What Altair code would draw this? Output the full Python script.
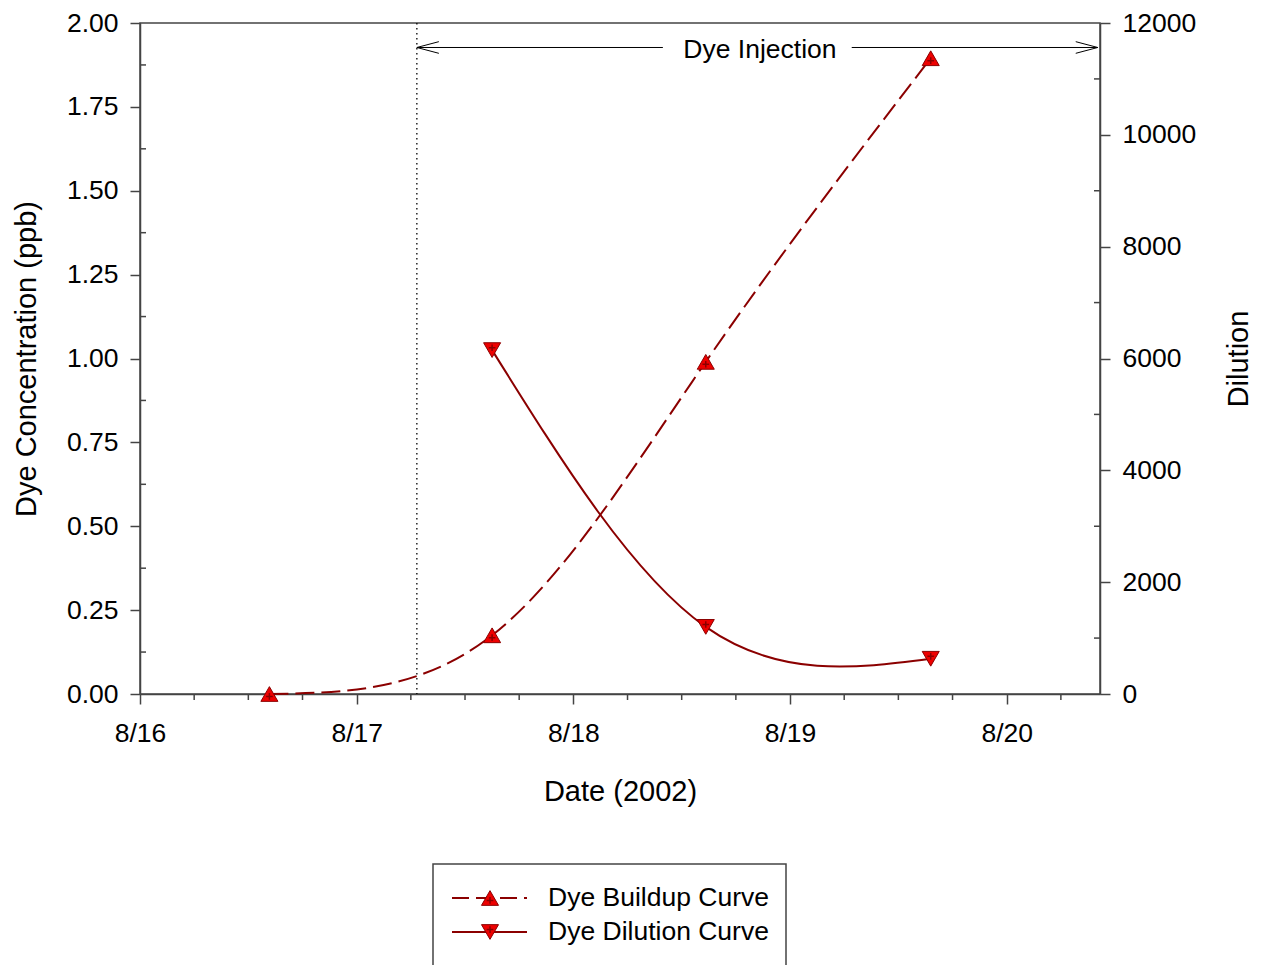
import altair as alt
import pandas as pd

# ---------------- data ----------------
sample_times = ["2002-08-16T14:20:00", "2002-08-17T15:00:00",
                "2002-08-18T14:40:00", "2002-08-19T15:35:00"]
buildup_ppb = [0.0, 0.175, 0.99, 1.895]

dilution_times = ["2002-08-17T15:00:00", "2002-08-18T14:40:00", "2002-08-19T15:35:00"]
dilution_vals = [6150, 1200, 630]

series_names = ["Dye Buildup Curve", "Dye Dilution Curve"]

injection_time = "2002-08-17T06:40:00"
injection_label = "Dye Injection"
arrow_level = 1.927
arrow_left_end = "2002-08-18T09:55:00"
arrow_right_start = "2002-08-19T06:50:00"
arrow_right_end = "2002-08-20T10:05:00"
label_time = "2002-08-18T20:40:00"

# ticks
x_major_days = [16, 17, 18, 19, 20]
x_minor_times = ["2002-08-16T06:00:00", "2002-08-16T12:00:00", "2002-08-16T18:00:00",
                 "2002-08-17T06:00:00", "2002-08-17T12:00:00", "2002-08-17T18:00:00",
                 "2002-08-18T06:00:00", "2002-08-18T12:00:00", "2002-08-18T18:00:00",
                 "2002-08-19T06:00:00", "2002-08-19T12:00:00", "2002-08-19T18:00:00",
                 "2002-08-20T06:00:00"]
left_major = [0, 0.25, 0.5, 0.75, 1.0, 1.25, 1.5, 1.75, 2.0]
left_minor = [0.125, 0.375, 0.625, 0.875, 1.125, 1.375, 1.625, 1.875]
right_major = [0, 2000, 4000, 6000, 8000, 10000, 12000]
right_minor = [1000, 3000, 5000, 7000, 9000, 11000]

# ---------------- styling ----------------
W, H = 960, 671
DARK = "#8b0000"
FILL = "#ee0000"
AX = "#444444"
FS = 26.5
TFS = 29
FONT = "Liberation Sans"
CROSS = "M-1,0L1,0M0,-1L0,1"
ARROW_L = "M1,-0.265L0,0L1,0.265"
ARROW_R = "M-1,-0.265L0,0L-1,0.265"
TRI_SIZE = 290
CROSS_SIZE = 44
DASH = [19, 7]

xscale = alt.Scale(domain=[alt.DateTime(year=2002, month=8, date=16),
                           alt.DateTime(year=2002, month=8, date=20, hours=10, minutes=20)],
                   nice=False)
xaxis = alt.Axis(values=[alt.DateTime(year=2002, month=8, date=d) for d in x_major_days],
                 format="%-m/%-d", tickSize=10, labelPadding=16, titlePadding=31,
                 orient="bottom")


def X(field="time"):
    return alt.X(f"{field}:T", scale=xscale, axis=xaxis, title="Date (2002)")


lscale = alt.Scale(domain=[0, 2], nice=False, zero=False)
rscale = alt.Scale(domain=[0, 12000], nice=False, zero=False)
laxis = alt.Axis(values=left_major, format=".2f", tickSize=10, labelPadding=12,
                 titlePadding=25, orient="left")
raxis = alt.Axis(values=right_major, format="d", tickSize=10, labelPadding=12,
                 titlePadding=29, orient="right", titleAngle=-90, titleBaseline="top")


def YL(field):
    return alt.Y(f"{field}:Q", scale=lscale, axis=laxis, title="Dye Concentration (ppb)")


def YR(field):
    return alt.Y(f"{field}:Q", scale=rscale, axis=raxis, title="Dilution")


df_b = pd.DataFrame({"time": sample_times, "conc": buildup_ppb})
df_d = pd.DataFrame({"time": dilution_times, "dil": dilution_vals})

# ---------- left (concentration) group ----------
b_line = alt.Chart(df_b).mark_line(interpolate="natural", color=DARK, strokeWidth=2,
                                   strokeDash=DASH).encode(x=X(), y=YL("conc"))
b_tri = alt.Chart(df_b).mark_point(shape="triangle-up", filled=True, fill=FILL, stroke=DARK,
                                   strokeWidth=1, size=TRI_SIZE, opacity=1).encode(
    x=X(), y=YL("conc"))
b_cross = alt.Chart(df_b).mark_point(shape=CROSS, filled=False, stroke=DARK, strokeWidth=1.5,
                                     size=CROSS_SIZE, opacity=1, yOffset=2.4).encode(
    x=X(), y=YL("conc"))

df_lmin = pd.DataFrame({"conc": left_minor})
l_minor = alt.Chart(df_lmin).mark_rule(color=AX, strokeWidth=1.5).encode(
    y=YL("conc"), x=alt.value(0), x2=alt.value(6))

df_xmin = pd.DataFrame({"time": x_minor_times})
x_minor = alt.Chart(df_xmin).mark_rule(color=AX, strokeWidth=1.5).encode(
    x=X(), y=alt.value(H), y2=alt.value(H + 6))

df_inj = pd.DataFrame({"time": [injection_time]})
inj_rule = alt.Chart(df_inj).mark_rule(color="black", strokeWidth=1.3,
                                       strokeDash=[1.5, 3.5]).encode(
    x=X(), y=alt.value(0), y2=alt.value(H))

df_arrow = pd.DataFrame({"time": [injection_time, arrow_right_start],
                         "time2": [arrow_left_end, arrow_right_end],
                         "conc": [arrow_level, arrow_level]})
arrow_lines = alt.Chart(df_arrow).mark_rule(color="black", strokeWidth=1).encode(
    x=X(), x2="time2:T", y=YL("conc"))

df_heads = pd.DataFrame({"time": [injection_time, arrow_right_end],
                         "conc": [arrow_level, arrow_level],
                         "dir": ["left", "right"]})
arrow_heads = alt.Chart(df_heads).mark_point(filled=False, stroke="black", strokeWidth=1,
                                             size=1936, opacity=1).encode(
    x=X(), y=YL("conc"),
    shape=alt.Shape("dir:N", scale=alt.Scale(domain=["left", "right"], range=[ARROW_L, ARROW_R]),
                    legend=None))

df_lab = pd.DataFrame({"time": [label_time], "conc": [arrow_level], "label": [injection_label]})
inj_text = alt.Chart(df_lab).mark_text(fontSize=FS, font=FONT, align="center", baseline="middle",
                                       color="black", dy=3).encode(
    x=X(), y=YL("conc"), text="label:N")

# ---------- legend (drawn below the plot) ----------
df_one = pd.DataFrame({"a": [0]})
leg_box = alt.Chart(df_one).mark_rect(fill="white", stroke=AX, strokeWidth=1.5).encode(
    x=alt.value(293), x2=alt.value(646), y=alt.value(841), y2=alt.value(990))
leg_parts = [leg_box]
for i, (name, dash, shape, yoff) in enumerate([
        (series_names[0], DASH, "triangle-up", 2.4),
        (series_names[1], None, "triangle-down", -2.4)]):
    ly = 875 + 34 * i
    lkw = dict(color=DARK, strokeWidth=2)
    if dash:
        lkw["strokeDash"] = [17, 7]
    leg_parts.append(alt.Chart(df_one).mark_rule(**lkw).encode(
        x=alt.value(312), x2=alt.value(387), y=alt.value(ly)))
    leg_parts.append(alt.Chart(df_one).mark_point(shape=shape, filled=True, fill=FILL, stroke=DARK,
                                                  strokeWidth=1, size=TRI_SIZE, opacity=1).encode(
        x=alt.value(350), y=alt.value(ly)))
    leg_parts.append(alt.Chart(df_one).mark_point(shape=CROSS, filled=False, stroke=DARK,
                                                  strokeWidth=1.5, size=CROSS_SIZE, opacity=1,
                                                  yOffset=yoff).encode(
        x=alt.value(350), y=alt.value(ly)))
    df_name = pd.DataFrame({"name": [name]})
    leg_parts.append(alt.Chart(df_name).mark_text(fontSize=FS, font=FONT, align="left",
                                                  baseline="middle", color="black").encode(
        x=alt.value(408), y=alt.value(ly), text="name:N"))

left = alt.layer(b_line, l_minor, x_minor, inj_rule, arrow_lines, arrow_heads, inj_text,
                 b_tri, b_cross, *leg_parts)

# ---------- right (dilution) group ----------
d_line = alt.Chart(df_d).mark_line(interpolate="natural", color=DARK, strokeWidth=2).encode(
    x=X(), y=YR("dil"))
d_tri = alt.Chart(df_d).mark_point(shape="triangle-down", filled=True, fill=FILL, stroke=DARK,
                                   strokeWidth=1, size=TRI_SIZE, opacity=1).encode(
    x=X(), y=YR("dil"))
d_cross = alt.Chart(df_d).mark_point(shape=CROSS, filled=False, stroke=DARK, strokeWidth=1.5,
                                     size=CROSS_SIZE, opacity=1, yOffset=-2.4).encode(
    x=X(), y=YR("dil"))
df_rmin = pd.DataFrame({"dil": right_minor})
r_minor = alt.Chart(df_rmin).mark_rule(color=AX, strokeWidth=1.5).encode(
    y=YR("dil"), x=alt.value(W - 6), x2=alt.value(W))

right = alt.layer(d_line, r_minor, d_tri, d_cross)

chart = alt.layer(left, right).resolve_scale(y="independent").properties(
    width=W, height=H,
    autosize=alt.AutoSizeParams(type="none"),
    padding={"left": 140, "top": 23, "right": 163, "bottom": 271},
).configure(font=FONT).configure_axis(
    domainColor=AX, domainWidth=1.5, tickColor=AX, tickWidth=1.5,
    labelColor="black", titleColor="black", labelFontSize=FS, titleFontSize=TFS,
    titleFontWeight="normal", labelFont=FONT, titleFont=FONT, grid=False,
    labelFlush=False, labelOverlap=False,
).configure_view(stroke=AX, strokeWidth=1.5)

chart.save("out.html", embed_options={"renderer": "svg", "actions": False})
